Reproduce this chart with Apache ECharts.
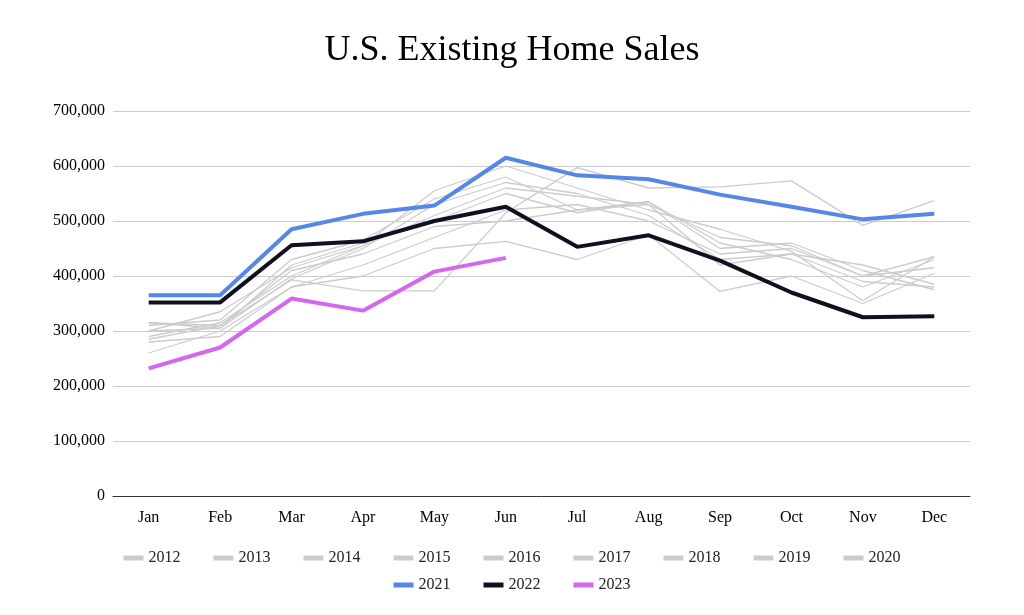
<!DOCTYPE html>
<html>
<head>
<meta charset="utf-8">
<script src="https://cdn.jsdelivr.net/npm/echarts@6/dist/echarts.min.js"></script>
<style>html,body{margin:0;background:#fff}#main{width:1024px;height:615px}</style>
</head>
<body>
<div id="main"></div>
<script>
const months = ["Jan","Feb","Mar","Apr","May","Jun","Jul","Aug","Sep","Oct","Nov","Dec"];
const s2012 = [260,300,380,400,450,463,430,475,372,400,350,405].map(v=>v*1000);
const s2013 = [285,310,410,440,490,500,520,530,420,440,390,380].map(v=>v*1000);
const s2014 = [280,290,380,420,470,520,530,500,440,450,400,415].map(v=>v*1000);
const s2015 = [300,305,420,460,500,550,515,535,460,430,380,430].map(v=>v*1000);
const s2016 = [290,315,400,455,510,560,545,530,470,455,400,435].map(v=>v*1000);
const s2017 = [310,320,430,465,540,580,520,535,450,460,410,375].map(v=>v*1000);
const s2018 = [315,305,395,450,530,570,550,510,430,440,420,385].map(v=>v*1000);
const s2019 = [300,335,415,455,555,600,560,520,485,445,355,435].map(v=>v*1000);
const s2020 = [315,310,393,373,373,515,597,560,562,573,492,537].map(v=>v*1000);
const s2021 = [365,365,485,513,528,615,583,576,548,526,503,513].map(v=>v*1000);
const s2022 = [352,352,456,463,500,526,453,474,428,370,325,327].map(v=>v*1000);
const s2023 = [232,270,359,337,408,433].map(v=>v*1000);

const greyYears = ["2012","2013","2014","2015","2016","2017","2018","2019","2020"];
const greyData = [s2012,s2013,s2014,s2015,s2016,s2017,s2018,s2019,s2020];
const mainYears = ["2021","2022","2023"];

let series = greyData.map((d,i)=>({
    name: greyYears[i], type:"line", data:d, symbol:"none",
    lineStyle:{width:1.3,color:"#cccccc"}, itemStyle:{color:"#cccccc"}
}));
series.push({name:"2021",type:"line",data:s2021,symbol:"none",lineStyle:{width:4,color:"#5587e9"},itemStyle:{color:"#5587e9"}});
series.push({name:"2022",type:"line",data:s2022,symbol:"none",lineStyle:{width:4,color:"#0f1020"},itemStyle:{color:"#0f1020"}});
series.push({name:"2023",type:"line",data:s2023,symbol:"none",lineStyle:{width:4,color:"#d466f0"},itemStyle:{color:"#d466f0"}});

let legendBase = {icon:"rect",itemWidth:20,itemHeight:5,itemGap:33,left:"center",
    textStyle:{fontFamily:"Liberation Serif",fontSize:16,color:"#222"}};

let chart = echarts.init(document.getElementById("main"));
chart.setOption({
    animation:false,
    textStyle:{fontFamily:"Liberation Serif"},
    title:{text:"U.S. Existing Home Sales",left:"center",top:28,
        textStyle:{fontFamily:"Liberation Serif",fontSize:36,fontWeight:"normal",color:"#000"}},
    grid:{left:113,right:54,top:111,bottom:119},
    legend:[
        Object.assign({top:545,data:greyYears},legendBase),
        Object.assign({top:572,data:mainYears},legendBase)
    ],
    xAxis:{type:"category",data:months,boundaryGap:true,
        axisLine:{lineStyle:{color:"#333"}},axisTick:{show:false},
        axisLabel:{color:"#000",fontSize:16,margin:14}},
    yAxis:{type:"value",min:0,max:700000,interval:100000,
        axisLabel:{color:"#000",fontSize:16,formatter:v=>v.toLocaleString("en-US")},
        splitLine:{lineStyle:{color:"#cccccc",width:1.2}}},
    series:series
});
</script>
</body>
</html>
